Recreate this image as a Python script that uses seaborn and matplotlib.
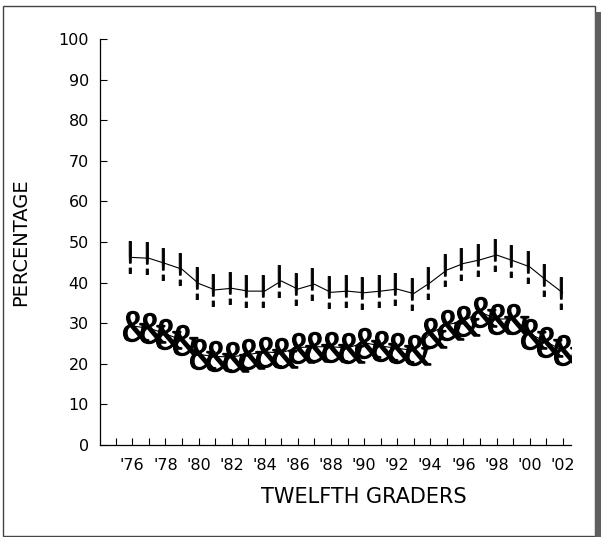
import matplotlib
matplotlib.use('Agg')
import numpy as np
import matplotlib.pyplot as plt
import seaborn as sns
from matplotlib.patches import Rectangle
from matplotlib.textpath import TextPath
from matplotlib.font_manager import FontProperties
from matplotlib.path import Path

# Data (percentages, twelfth graders 1976-2002)
years = list(range(76, 103))
series_top = [46.2, 46.0, 44.7, 43.3, 39.8, 38.2, 38.6, 37.9, 37.9, 40.4,
              38.4, 39.6, 37.6, 37.9, 37.5, 37.9, 38.4, 37.3, 40.0, 43.1,
              44.7, 45.6, 46.8, 45.4, 43.9, 40.6, 37.5]
series_bottom = [29.3, 28.8, 27.4, 25.8, 22.3, 21.8, 21.7, 22.3, 22.9, 22.7,
                 24.0, 24.2, 24.2, 23.9, 25.2, 24.4, 23.8, 23.3, 27.5, 29.6,
                 30.5, 32.8, 31.0, 31.1, 27.4, 25.4, 23.3]
tick_years = list(range(76, 103, 2))
tick_labels = ["'%02d" % (y % 100) for y in tick_years]


def glyph_marker(ch, family, aspect=None, dx=0.0, weight='normal'):
    # glyph outline as a marker path, height 1, centred (plus a small x shift)
    tp = TextPath((0, 0), ch, size=10, prop=FontProperties(family=family, weight=weight))
    v = tp.vertices.copy()
    v[:, 0] -= (v[:, 0].min() + v[:, 0].max()) / 2
    v[:, 1] -= (v[:, 1].min() + v[:, 1].max()) / 2
    h = v[:, 1].max() - v[:, 1].min()
    w = v[:, 0].max() - v[:, 0].min()
    v[:, 1] /= h
    v[:, 0] /= h
    if aspect is not None:
        v[:, 0] *= aspect / (w / h)
    v[:, 0] += dx
    factor = 2 * np.abs(v).max()
    return Path(v, tp.codes), factor


bang, f_bang = glyph_marker('!', 'DejaVu Sans', aspect=0.17, dx=-0.12)
amp, f_amp = glyph_marker('&', 'Liberation Serif', aspect=0.88, dx=0.1)
px = 72 / 100  # points per pixel

sns.set_style('white')
plt.rcParams['font.family'] = ['DejaVu Sans']

fig = plt.figure(figsize=(6.04, 5.37), dpi=100)
W, H = 604, 537

# page frame with shadow
fig.patches.append(Rectangle((3 / W, 1 - 536 / H), 592 / W, 530 / H,
                             transform=fig.transFigure, fill=False,
                             edgecolor='#444444', linewidth=1))
fig.patches.append(Rectangle((595 / W, 0), 6 / W, 1 - 12 / H,
                             transform=fig.transFigure, facecolor='#5f5f5f',
                             edgecolor='none'))

ax = fig.add_axes([100 / W, 1 - 445 / H, 471 / W, 406 / H])

sns.lineplot(x=years, y=series_top, ax=ax, color='black', linewidth=0.8,
             marker=bang, markersize=32 * px * f_bang, markerfacecolor='black',
             markeredgecolor='black', markeredgewidth=0.7)
sns.lineplot(x=years, y=series_bottom, ax=ax, color='black', linewidth=0.8,
             marker=amp, markersize=30 * px * f_amp, markerfacecolor='black',
             markeredgecolor='black', markeredgewidth=1.0)

ax.set_xlim(74.05, 102.5)
ax.set_ylim(0, 100)
ax.set_yticks(range(0, 101, 10))
ax.set_xticks(tick_years)
ax.set_xticklabels(tick_labels)
ax.set_xticks(range(75, 103), minor=True)

for side in ['top', 'right']:
    ax.spines[side].set_visible(False)
for side in ['left', 'bottom']:
    ax.spines[side].set_color('black')
    ax.spines[side].set_linewidth(0.9)

ax.tick_params(axis='both', which='both', direction='in', length=5,
               width=0.8, color='black', labelsize=11.5, labelcolor='black')
ax.tick_params(axis='x', which='both', bottom=True, pad=9)
ax.tick_params(axis='y', left=True, pad=8)

ax.set_xlabel('TWELFTH GRADERS', fontsize=15, color='black')
ax.set_ylabel('PERCENTAGE', fontsize=14, color='black')
ax.xaxis.set_label_coords(0.56, -0.103)
ax.yaxis.set_label_coords(-0.149, 0.5)
ax.grid(False)

plt.savefig('out.png', dpi=100)
